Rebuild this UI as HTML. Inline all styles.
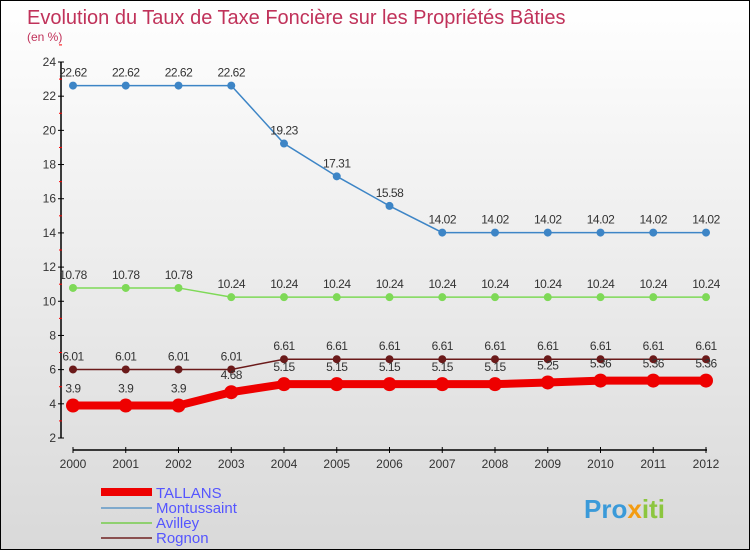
<!DOCTYPE html>
<html><head><meta charset="utf-8"><style>
body{margin:0}
#wrap{position:relative;width:748px;height:548px;border:1px solid #000;background:linear-gradient(#fff,#f3f3f3 30%,#d9d9d9);font-family:"Liberation Sans",sans-serif;overflow:hidden}
</style></head><body>
<div id="wrap">
<svg id="svg" width="748" height="548">
<text x="26" y="23" font-size="20" fill="#c0325a">Evolution du Taux de Taxe Foncière sur les Propriétés Bâties</text>
<text x="26" y="40" font-size="12" fill="#c0325a">(en %)</text>
<g id="axes"></g><g id="series"></g>
<g>
<rect x="100" y="487" width="51" height="8" fill="#e00"/>
<text x="155" y="497" font-size="15" fill="#55f">TALLANS</text>
<line x1="100" y1="507" x2="151" y2="507" stroke="#7fa9cc" stroke-width="2"/>
<text x="155" y="512" font-size="15" fill="#55f">Montussaint</text>
<line x1="100" y1="522" x2="151" y2="522" stroke="#8fd070" stroke-width="2"/>
<text x="155" y="527" font-size="15" fill="#55f">Avilley</text>
<line x1="100" y1="537" x2="151" y2="537" stroke="#8a5050" stroke-width="2"/>
<text x="155" y="542" font-size="15" fill="#55f">Rognon</text>
</g>
<text x="583" y="517" font-size="26" font-weight="bold" fill="#3a9ad9">Pro<tspan fill="#f39c12">x</tspan><tspan fill="#8cc63f">iti</tspan></text>
</svg></div>
<script>
const years=[2000,2001,2002,2003,2004,2005,2006,2007,2008,2009,2010,2011,2012];
const yTicks=[2,4,6,8,10,12,14,16,18,20,22,24];
const tallans=[3.9,3.9,3.9,4.68,5.15,5.15,5.15,5.15,5.15,5.25,5.36,5.36,5.36];
const montussaint=[22.62,22.62,22.62,22.62,19.23,17.31,15.58,14.02,14.02,14.02,14.02,14.02,14.02];
const avilley=[10.78,10.78,10.78,10.24,10.24,10.24,10.24,10.24,10.24,10.24,10.24,10.24,10.24];
const rognon=[6.01,6.01,6.01,6.01,6.61,6.61,6.61,6.61,6.61,6.61,6.61,6.61,6.61];
const NS="http://www.w3.org/2000/svg";
const X=i=>72+i*(633/(years.length-1));
const Y=v=>437-(v-2)*(376/22);
function mk(t,a,p){const e=document.createElementNS(NS,t);for(const k in a)e.setAttribute(k,a[k]);p.appendChild(e);return e;}
const ax=document.getElementById('axes');
const yl=mk('line',{x1:60,y1:Y(24),x2:60,y2:Y(2),stroke:'#000','stroke-width':1.5},ax);


const xl=mk('line',{x1:72,y1:449,x2:706,y2:449,stroke:'#000','stroke-width':1.5},ax);


yTicks.forEach(v=>{
 mk('line',{x1:57,y1:Y(v),x2:63,y2:Y(v),stroke:'#000'},ax);
 mk('line',{x1:58,y1:Y(v+1),x2:61,y2:Y(v+1),stroke:'#f00'},ax);
 const t=mk('text',{x:55,y:Y(v)+4,'text-anchor':'end','font-size':12,fill:'#333'},ax);t.textContent=v;
 
 
});
years.forEach((y,i)=>{
 mk('line',{x1:X(i),y1:446,x2:X(i),y2:452,stroke:'#000'},ax);
 const t=mk('text',{x:X(i),y:467,'text-anchor':'middle','font-size':12,fill:'#333'},ax);t.textContent=y;
 
 
});
const sg=document.getElementById('series');
function series(name,data,color,w,r,dy){
 const g=mk('g',{},sg);
 
 
 const pl=mk('polyline',{points:data.map((v,i)=>X(i)+','+Y(v)).join(' '),fill:'none',stroke:color,'stroke-width':w},g);
 
 
 data.forEach((v,i)=>{
  const c=mk('circle',{cx:X(i),cy:Y(v),r:r,fill:color},g);
  
  
  const t=mk('text',{x:X(i),y:Y(v)+dy,'text-anchor':'middle','font-size':12,fill:'#333','letter-spacing':'-0.5'},g);t.textContent=String(v).replace('.','.');
  
  
 });
}
series('montussaint',montussaint,'#3d85c6',1.5,4,-9);
series('avilley',avilley,'#7ed957',1.5,4,-9);
series('rognon',rognon,'#6b1a1a',1.5,4,-9);
series('tallans',tallans,'#e00',8,7,-13);
</script>
</body></html>
